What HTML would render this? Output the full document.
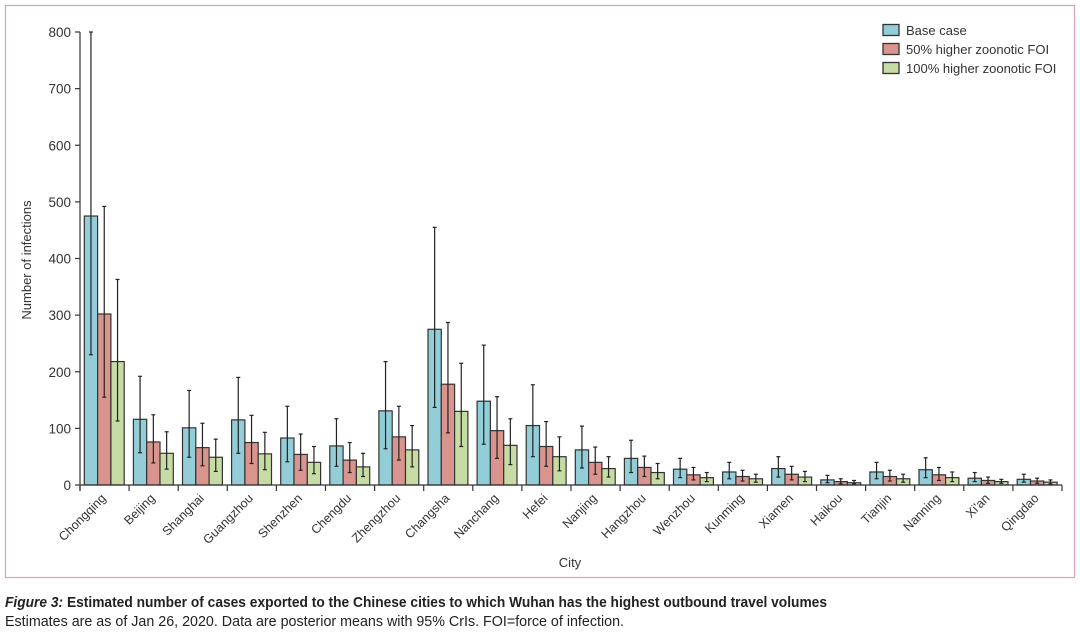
<!DOCTYPE html>
<html><head><meta charset="utf-8"><style>
body{margin:0;background:#fff;}
svg{display:block;font-family:"Liberation Sans",sans-serif;}
</style></head><body>
<svg id="chart" width="1080" height="634" viewBox="0 0 1080 634">
<rect x="5.5" y="5.5" width="1069" height="572" fill="none" stroke="#d9a3ad" stroke-width="1.2"/>
<g id="plot"></g>
<g>
<g><rect x="883" y="24.5" width="16" height="11" fill="#93cdd8" stroke="#333" stroke-width="1.3"/><text x="906" y="35" font-size="13" fill="#333">Base case</text></g>
<g><rect x="883" y="43.5" width="16" height="11" fill="#da948e" stroke="#333" stroke-width="1.3"/><text x="906" y="54" font-size="13" fill="#333">50% higher zoonotic FOI</text></g>
<g><rect x="883" y="62.5" width="16" height="11" fill="#c6dca4" stroke="#333" stroke-width="1.3"/><text x="906" y="73" font-size="13" fill="#333">100% higher zoonotic FOI</text></g>
</g>
<text x="31" y="260" font-size="13" fill="#333" text-anchor="middle" transform="rotate(-90 31 260)">Number of infections</text>
<text x="570" y="567" font-size="13" fill="#333" text-anchor="middle">City</text>
<text x="5" y="607" font-size="15" fill="#222" font-weight="bold" textLength="822" lengthAdjust="spacingAndGlyphs"><tspan font-style="italic">Figure 3:</tspan> Estimated number of cases exported to the Chinese cities to which Wuhan has the highest outbound travel volumes</text>
<text x="5" y="626" font-size="14.5" fill="#222" textLength="619" lengthAdjust="spacingAndGlyphs">Estimates are as of Jan 26, 2020. Data are posterior means with 95% CrIs. FOI=force of infection.</text>
</svg>
<script>
const cities=["Chongqing","Beijing","Shanghai","Guangzhou","Shenzhen","Chengdu","Zhengzhou","Changsha","Nanchang","Hefei","Nanjing","Hangzhou","Wenzhou","Kunming","Xiamen","Haikou","Tianjin","Nanning","Xi'an","Qingdao"];
const baseMean=[475,116,101,115,83,69,131,275,148,105,62,47,28,23,29,9,23,27,12,10];
const baseLow=[230,57,49,56,41,33,64,137,72,50,30,22,13,11,14,4,11,13,6,5];
const baseHigh=[800,192,167,190,139,117,218,455,247,177,104,79,47,40,50,17,40,48,22,19];
const m50Mean=[302,76,66,75,54,44,85,178,96,68,40,31,18,15,19,6,15,18,8,7];
const m50Low=[155,39,34,38,26,22,44,92,47,33,19,15,9,7,9,2,7,8,3,3];
const m50High=[492,124,109,123,90,75,139,287,156,112,67,51,31,26,33,11,26,31,14,12];
const m100Mean=[218,56,49,55,40,32,62,130,70,50,29,22,13,11,14,4,11,13,6,5];
const m100Low=[113,28,24,27,20,15,32,68,36,25,14,11,6,5,6,2,5,6,3,2];
const m100High=[363,94,81,93,68,56,105,215,117,85,50,38,22,19,24,8,19,23,10,9];
const yTicks=[0,100,200,300,400,500,600,700,800];

const NS="http://www.w3.org/2000/svg";
const g=document.getElementById('plot');
const x0=80,x1=1062,y0=485,yTop=32,yMax=800;
const y=v=>y0-(v/yMax)*(y0-yTop);
const gw=(x1-x0)/cities.length;
const bw=13.3;
function el(t,a,p){const e=document.createElementNS(NS,t);for(const k in a)e.setAttribute(k,a[k]);(p||g).appendChild(e);return e;}
const series=[
 {n:'base',c:'#93cdd8',m:baseMean,l:baseLow,h:baseHigh},
 {n:'50pct',c:'#da948e',m:m50Mean,l:m50Low,h:m50High},
 {n:'100pct',c:'#c6dca4',m:m100Mean,l:m100Low,h:m100High}];
cities.forEach((c,i)=>{
  const gx=x0+i*gw+4.3;
  series.forEach((s,j)=>{
    const bx=gx+j*bw;
    const r=el('rect',{x:bx,y:y(s.m[i]),width:bw,height:y0-y(s.m[i]),fill:s.c,stroke:'#333','stroke-width':1.2});
    
    
    const cx=bx+bw/2;
    const eg=el('g',{stroke:'#222','stroke-width':1.2});
    
    
    el('line',{x1:cx,x2:cx,y1:y(s.h[i]),y2:y(s.l[i])},eg);
    el('line',{x1:cx-2,x2:cx+2,y1:y(s.h[i]),y2:y(s.h[i])},eg);
    el('line',{x1:cx-2,x2:cx+2,y1:y(s.l[i]),y2:y(s.l[i])},eg);
  });
  const lx=x0+i*gw+gw/2+2, ly=y0+14;
  const t=el('text',{x:lx,y:ly,'font-size':12.5,fill:'#333','text-anchor':'end',transform:`rotate(-45 ${lx} ${ly})`});
  t.textContent=c;
  
  
});
const ax=el('g',{stroke:'#333','stroke-width':1.2});


el('line',{x1:x0,x2:x0,y1:yTop,y2:y0+6},ax);
el('line',{x1:x0,x2:x1,y1:y0,y2:y0},ax);
for(let i=0;i<=cities.length;i++){const tx=x0+i*gw;el('line',{x1:tx,x2:tx,y1:y0,y2:y0+6},ax);}
yTicks.forEach(v=>{
  el('line',{x1:x0-5,x2:x0,y1:y(v),y2:y(v)},ax);
  const t=el('text',{x:x0-9,y:y(v)+5,'font-size':13.5,fill:'#333','text-anchor':'end'});
  t.textContent=v;
  
  
});
</script>
</body></html>
